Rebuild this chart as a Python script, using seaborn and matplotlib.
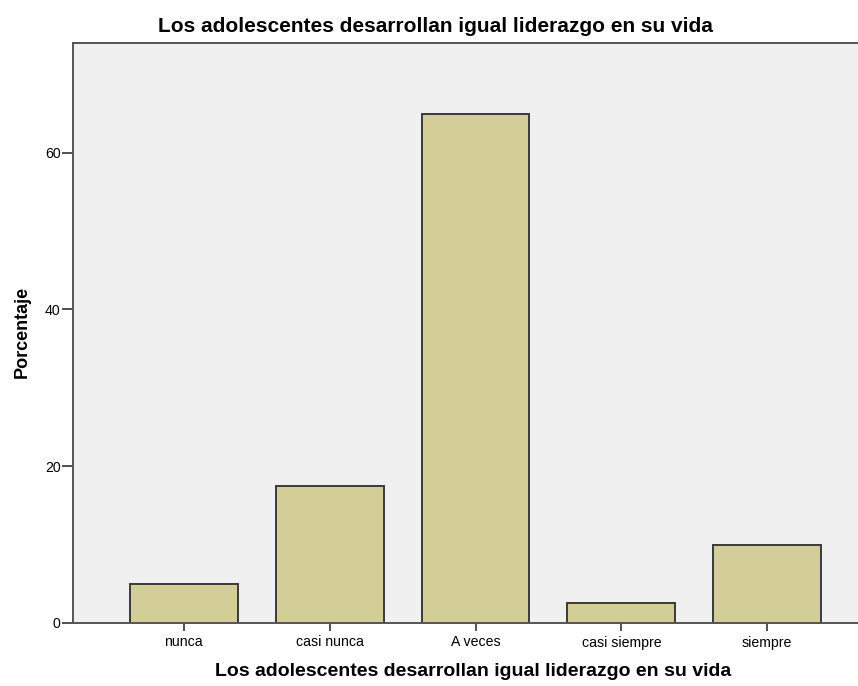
import pandas as pd
import matplotlib
matplotlib.use('Agg')
import matplotlib.pyplot as plt
import seaborn as sns

# values
categorias = ["nunca", "casi nunca", "A veces", "casi siempre", "siempre"]
porcentaje = [5.0, 17.5, 65.0, 2.5, 10.0]
titulo = "Los adolescentes desarrollan igual liderazgo en su vida"

df = pd.DataFrame({"categoria": categorias, "porcentaje": porcentaje})

sns.set_style("white")
plt.rcParams['font.family'] = ['Liberation Sans', 'DejaVu Sans']
plt.rcParams['text.color'] = 'black'

fig = plt.figure(figsize=(8.58, 6.86), dpi=100)
# axes runs off the right edge like the original export
ax = fig.add_axes([73 / 858, 63 / 686, 805 / 858, 580 / 686])
ax.set_facecolor("#F0F0F0")

sns.barplot(data=df, x="categoria", y="porcentaje", color="#D3CE97",
            edgecolor="#3a3a3a", linewidth=1.4, width=0.74, saturation=1, ax=ax)

ax.set_xlim(-0.76, 4.76)
ax.set_ylim(0, 74)
ax.set_yticks([0, 20, 40, 60])
ax.tick_params(axis='y', direction='out', length=8, width=1.2, color="#333333",
               labelcolor='black', labelsize=10.2, left=True, pad=1)
ax.tick_params(axis='x', direction='out', length=6, width=1.2, color="#333333",
               labelcolor='black', labelsize=10.2, bottom=True, pad=3)
for s in ax.spines.values():
    s.set_color("#555555")
    s.set_linewidth(1.4)

ax.set_xlabel("")
ax.set_ylabel("")
fig.text(22 / 858, 1 - 332 / 686, "Porcentaje", rotation=90, ha='center', va='center',
         fontsize=13, fontweight='bold')
fig.text(435 / 858, 1 - 32 / 686, titulo, ha='center', va='baseline',
         fontsize=15, fontweight='bold')
fig.text(473 / 858, 1 - 676 / 686, titulo, ha='center', va='baseline',
         fontsize=14, fontweight='bold')

fig.savefig("out.png", dpi=100)
